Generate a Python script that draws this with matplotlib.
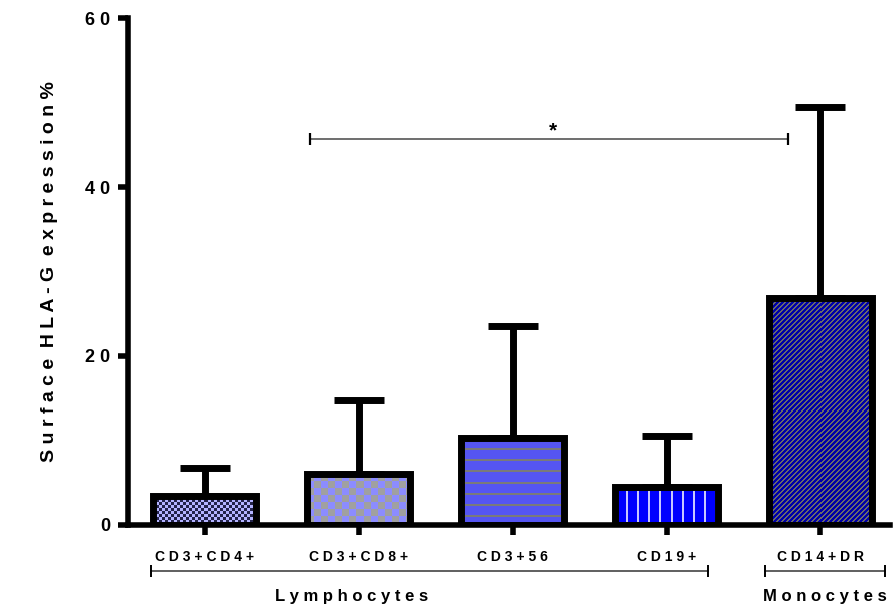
# HLA-G surface expression by cell subset
import numpy as np
import matplotlib
matplotlib.use("Agg")
import matplotlib.pyplot as plt
from matplotlib.transforms import blended_transform_factory

OUT_FILE = "out.png"

categories = ["CD3+CD4+", "CD3+CD8+", "CD3+56", "CD19+", "CD14+DR"]
means = [3.4, 6.0, 10.3, 4.5, 26.9]
sd_upper = [3.4, 8.8, 13.2, 6.0, 22.6]
y_ticks = [0, 20, 40, 60]
groups = ["Lymphocytes", "Monocytes"]
group_spans = [(-0.35, 3.27), (3.64, 4.42)]
group_label_x = [0.95, 4.03]
sig_span = (0.68, 3.79)
sig_level = 45.7
sig_text = "*"

# fill patterns (style only): kind, colour A, colour B, cell / period in px
styles = [
    ("check", "#b3b3ff", "#23234a", 3),
    ("check", "#8c8cff", "#a0a0a0", 7),
    ("hlines", "#5555f2", "#7a7a7a", 11),
    ("vlines", "#0000ff", "#c8c8ff", 11),
    ("diag", "#0000a8", "#6a6a6a", 5),
]

FONT = ["Liberation Sans", "DejaVu Sans"]


def spaced(s):
    # the original uses wide letter spacing
    return "  ".join(" ".join(word) for word in s.split(" "))


def pattern(kind, c1, c2, p, h, w):
    yy, xx = np.mgrid[0:h, 0:w]
    if kind == "check":
        mask = ((xx // p + yy // p) % 2) == 0
    elif kind == "hlines":
        mask = (yy % p) < 2
    elif kind == "vlines":
        mask = (xx % p) < 2
    else:
        mask = ((xx + yy) % p) < 2
    a = np.array(matplotlib.colors.to_rgb(c1))
    b = np.array(matplotlib.colors.to_rgb(c2))
    return np.where(mask[..., None], b, a)


fig = plt.figure(figsize=(8.93, 6.13), dpi=100)
ax = fig.add_axes([0.1433, 0.1436, 0.853, 0.827])

x = np.arange(len(categories))
xlim = (-0.5, 4.45)
ylim = (0, 60)
ax.set_xlim(*xlim)
ax.set_ylim(*ylim)

# error bars (upper only), drawn below the bars
ax.errorbar(x, means, yerr=[np.zeros(len(means)), sd_upper], fmt="none",
            ecolor="black", elinewidth=5, capsize=18, capthick=5, zorder=1)

bars = ax.bar(x, means, width=0.67, color="none", edgecolor="none", zorder=2)

# patterned fills, clipped to each bar
for bar, (kind, c1, c2, p) in zip(bars, styles):
    ext = bar.get_window_extent()
    w = max(int(round(ext.width)), 1)
    h = max(int(round(ext.height)), 1)
    img = pattern(kind, c1, c2, p, h, w)
    bx, by = bar.get_x(), bar.get_y()
    im = ax.imshow(img, extent=(bx, bx + bar.get_width(), by, by + bar.get_height()),
                   interpolation="nearest", aspect="auto", zorder=2)
    im.set_clip_path(bar)

# thick black outlines on top
ax.bar(x, means, width=0.67, fill=False, edgecolor="black", linewidth=5, zorder=3)

ax.set_xlim(*xlim)
ax.set_ylim(*ylim)

for side in ["top", "right"]:
    ax.spines[side].set_visible(False)
for side in ["left", "bottom"]:
    ax.spines[side].set_linewidth(4)

ax.set_yticks(y_ticks)
ax.set_yticklabels([spaced(str(t)) for t in y_ticks], fontsize=13,
                   fontweight="bold", family=FONT)
ax.set_xticks(x)
ax.set_xticklabels([spaced(c) for c in categories], fontsize=10,
                   fontweight="bold", family=FONT)
ax.tick_params(axis="both", direction="out", length=7, width=4)
ax.tick_params(axis="x", pad=11)
ax.tick_params(axis="y", pad=6)

ax.set_ylabel(spaced("Surface HLA-G expression%"),
              fontsize=14, fontweight="bold", family=FONT, labelpad=19)

# significance bar
x0, x1 = sig_span
ax.plot([x0, x1], [sig_level, sig_level], color="#555555", lw=1.2, zorder=4)
ax.plot([x0, x1], [sig_level, sig_level], ls="none", marker="|", ms=8,
        mew=1.6, color="black", zorder=4)
ax.text((x0 + x1) / 2 + 0.03, sig_level - 0.2, sig_text, ha="center",
        va="bottom", fontsize=15, fontweight="bold", family=FONT)

# group brackets below the axis
trans = blended_transform_factory(ax.transData, ax.transAxes)
for name, (gx0, gx1), lx in zip(groups, group_spans, group_label_x):
    ax.plot([gx0, gx1], [-0.091, -0.091], transform=trans, color="#444444",
            lw=1.2, clip_on=False)
    ax.plot([gx0, gx1], [-0.091, -0.091], transform=trans, ls="none",
            marker="|", ms=9, mew=1.4, color="black", clip_on=False)
    ax.text(lx, -0.141, spaced(name), transform=trans,
            ha="center", va="center", fontsize=12, fontweight="bold",
            family=FONT)

fig.savefig(OUT_FILE, dpi=100)
